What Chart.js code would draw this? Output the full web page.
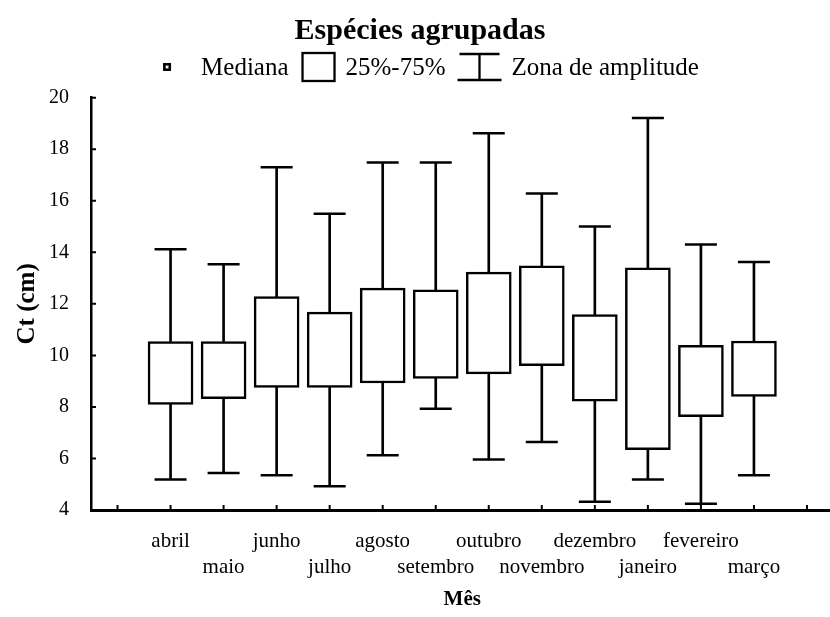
<!DOCTYPE html>
<html>
<head>
<meta charset="utf-8">
<script src="https://cdn.jsdelivr.net/npm/chart.js@4.4.1/dist/chart.umd.min.js"></script>
<style>
  html, body { margin: 0; padding: 0; background: #fff; overflow: hidden; }
  #wrap { width: 852px; height: 617px; }
</style>
</head>
<body>
<div id="wrap"><canvas id="myChart"></canvas></div>
<script>
let months = ['abril', 'maio', 'junho', 'julho', 'agosto', 'setembro', 'outubro', 'novembro', 'dezembro', 'janeiro', 'fevereiro', 'março'];
let minVals = [5.18, 5.44, 5.35, 4.92, 6.12, 7.93, 5.96, 6.64, 4.32, 5.18, 4.24, 5.35];
let q1Vals = [8.10, 8.32, 8.76, 8.76, 8.93, 9.11, 9.28, 9.60, 8.22, 6.34, 7.62, 8.41];
let medianVals = [8.67, 9.10, 9.88, 10.03, 9.88, 9.77, 11.85, 11.68, 10.22, 9.10, 8.58, 9.28];
let q3Vals = [10.54, 10.54, 12.28, 11.68, 12.61, 12.54, 13.23, 13.48, 11.58, 13.40, 10.39, 10.56];
let maxVals = [14.12, 13.54, 17.30, 15.50, 17.49, 17.49, 18.62, 16.28, 15.00, 19.21, 14.30, 13.62];
let yTicks = { min: 4, max: 20, step: 2 };

let serif = "'Liberation Serif', 'Times New Roman', serif";

// an empty slot before abril and after março, labels alternate between two rows
let labels = [['', '']].concat(months.map((m, i) => i % 2 === 0 ? [m, ''] : ['', m]), [['', '']]);
let pad = (arr) => [null].concat(arr, [null]);

let boxes = pad(q1Vals.map((q, i) => [q, q3Vals[i]]));
let lowWhisker = pad(minVals.map((v, i) => [v, q1Vals[i]]));
let highWhisker = pad(q3Vals.map((v, i) => [v, maxVals[i]]));

// ticks point into the plot, and the legend has custom icons
let extras = {
  id: 'extras',
  afterDraw(chart) {
    let ctx = chart.ctx;
    let x = chart.scales.x, y = chart.scales.y;
    let area = chart.chartArea;
    ctx.save();
    ctx.strokeStyle = '#000';
    ctx.lineWidth = 2;
    ctx.beginPath();
    x.ticks.forEach((t, i) => {
      let px = x.getPixelForTick(i);
      ctx.moveTo(px, area.bottom);
      ctx.lineTo(px, area.bottom - 5);
    });
    y.ticks.forEach((t, i) => {
      let py = y.getPixelForTick(i);
      ctx.moveTo(area.left, py);
      ctx.lineTo(area.left + 5, py);
    });
    ctx.stroke();

    // legend
    ctx.font = '25px ' + serif;
    ctx.fillStyle = '#000';
    ctx.textBaseline = 'middle';
    let texts = ['Mediana', '25%-75%', 'Zona de amplitude'];
    let w = texts.map(t => ctx.measureText(t).width);
    let total = 8 + 30 + w[0] + 14 + 32 + 11 + w[1] + 12 + 44 + 10 + w[2];
    let cx = 431, cy = 67;
    let lx = cx - total / 2;
    ctx.lineWidth = 2.6;
    ctx.strokeStyle = '#000';
    ctx.fillStyle = '#fff';
    ctx.fillRect(lx + 1.3, cy - 2.7, 5.4, 5.4);
    ctx.strokeRect(lx + 1.3, cy - 2.7, 5.4, 5.4);
    lx += 8 + 30;
    ctx.fillStyle = '#000';
    ctx.fillText(texts[0], lx, cy + 1);
    lx += w[0] + 14;
    ctx.lineWidth = 2.3;
    ctx.strokeRect(lx, cy - 14, 32, 28);
    lx += 32 + 11;
    ctx.fillText(texts[1], lx, cy + 1);
    lx += w[1] + 12;
    ctx.beginPath();
    ctx.moveTo(lx + 2, cy - 13); ctx.lineTo(lx + 42, cy - 13);
    ctx.moveTo(lx, cy + 13); ctx.lineTo(lx + 44, cy + 13);
    ctx.moveTo(lx + 22, cy - 13); ctx.lineTo(lx + 22, cy + 13);
    ctx.stroke();
    lx += 44 + 10;
    ctx.fillText(texts[2], lx, cy + 1);
    ctx.restore();
  }
};

let ctx = document.getElementById('myChart').getContext('2d');

let myChart = new Chart(ctx, {
  type: 'bar',
  data: {
    labels: labels,
    datasets: [
      { data: lowWhisker, backgroundColor: '#000', borderWidth: 0, barThickness: 2, grouped: false },
      { data: highWhisker, backgroundColor: '#000', borderWidth: 0, barThickness: 2, grouped: false },
      { data: boxes, backgroundColor: '#fff', borderColor: '#000', borderWidth: 2.5, borderSkipped: false, barThickness: 45, grouped: false },
      { type: 'line', data: pad(maxVals), showLine: false, pointStyle: 'line', pointRadius: 16, pointBorderWidth: 2.5, pointBorderColor: '#000' },
      { type: 'line', data: pad(minVals), showLine: false, pointStyle: 'line', pointRadius: 16, pointBorderWidth: 2.5, pointBorderColor: '#000' },
      { type: 'line', data: pad(medianVals), showLine: false, pointStyle: 'rect', pointRadius: 4.2, pointBorderWidth: 2.6, pointBackgroundColor: '#fff', pointBorderColor: '#000' }
    ]
  },
  options: {
    responsive: true,
    maintainAspectRatio: false,
    animation: false,
    events: [],
    layout: { padding: { left: 0, right: 12, top: 0, bottom: 0 } },
    plugins: {
      legend: { display: false },
      tooltip: { enabled: false },
      title: {
        display: true,
        text: 'Espécies agrupadas',
        color: '#000',
        font: { family: serif, size: 30, weight: 'bold' },
        padding: { top: 13, bottom: 48.7 }
      }
    },
    scales: {
      x: {
        offset: true,
        grid: { display: false },
        border: { color: '#000', width: 3 },
        ticks: { color: '#000', autoSkip: false, maxRotation: 0, padding: 10, font: { family: serif, size: 21, lineHeight: 1.25 } },
        title: { display: true, text: 'Mês', color: '#000', font: { family: serif, size: 21, weight: 'bold' }, padding: { top: 0, bottom: 5 } },
        afterFit: (scale) => { scale.height = 107; }
      },
      y: {
        min: yTicks.min,
        max: yTicks.max,
        grid: { display: false },
        border: { color: '#000', width: 2.5 },
        ticks: { stepSize: yTicks.step, color: '#000', padding: 14, font: { family: serif, size: 20 } },
        title: { display: true, text: 'Ct (cm)', color: '#000', font: { family: serif, size: 25, weight: 'bold' }, padding: { top: 13, bottom: 0 } },
        afterFit: (scale) => { scale.width = 91; }
      }
    }
  },
  plugins: [extras]
});
</script>
</body>
</html>
